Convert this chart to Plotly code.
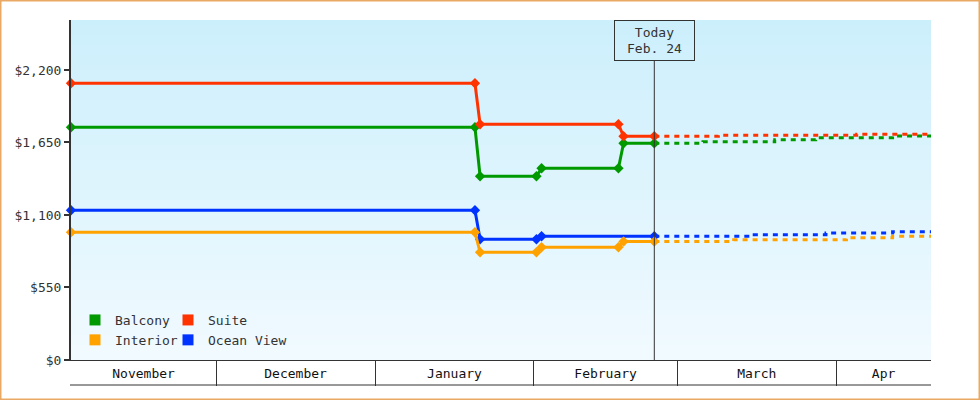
import plotly.graph_objects as go
import pandas as pd

# ---------------- data ----------------
range_start = "2022-11-02 16:00"
range_end = "2023-04-19 12:00"
today = "2023-02-24 12:00"
today_label = "Today<br>Feb. 24"

series_names = ["Balcony", "Suite", "Interior", "Ocean View"]
series_colors = ["#009900", "#ff3300", "#ffa200", "#0033ff"]

balcony_dates = [range_start, "2023-01-20 12:00", "2023-01-21 12:00", "2023-02-01 12:00",
                 "2023-02-02 12:00", "2023-02-17 12:00", "2023-02-18 12:00", today]
balcony_prices = [1765, 1765, 1394, 1394, 1454, 1454, 1644, 1644]

suite_dates = [range_start, "2023-01-20 12:00", "2023-01-21 12:00",
               "2023-02-17 12:00", "2023-02-18 12:00", today]
suite_prices = [2099, 2099, 1788, 1788, 1697, 1697]

interior_dates = [range_start, "2023-01-20 12:00", "2023-01-21 12:00", "2023-02-01 12:00",
                  "2023-02-02 12:00", "2023-02-17 12:00", "2023-02-18 12:00", today]
interior_prices = [969, 969, 817, 817, 855, 855, 899, 899]

ocean_dates = [range_start, "2023-01-20 12:00", "2023-01-21 12:00",
               "2023-02-01 12:00", "2023-02-02 12:00", today]
ocean_prices = [1136, 1136, 916, 916, 939, 939]

# forecast (dashed)
balcony_fc_dates = [today, "2023-03-06", "2023-03-20", "2023-03-28", "2023-04-12", range_end]
balcony_fc_prices = [1644, 1656, 1671, 1686, 1699, 1699]

suite_fc_dates = [today, "2023-03-09", "2023-04-05", range_end]
suite_fc_prices = [1697, 1705, 1712, 1712]

interior_fc_dates = [today, "2023-03-12", "2023-04-03", "2023-04-12", range_end]
interior_fc_prices = [899, 912, 928, 938, 938]

ocean_fc_dates = [today, "2023-03-16", "2023-03-30", "2023-04-12", range_end]
ocean_fc_prices = [939, 950, 963, 973, 973]

y_tickvals = [0, 550, 1100, 1650, 2200]
y_ticktext = ["$0", "$550", "$1,100", "$1,650", "$2,200"]
y_max = 2579

month_starts = ["2022-11-01", "2022-12-01", "2023-01-01", "2023-02-01", "2023-03-01", "2023-04-01", "2023-05-01"]
month_labels = ["November", "December", "January", "February", "March", "Apr"]

# ---------------- style ----------------
FONT = "DejaVu Sans Mono"
INK = "#333333"
W, H = 980, 400
ML, MR, MT, MB = 71, 49, 20, 40
PW, PH = W - ML - MR, H - MT - MB


def px_x(p):  # pixel -> paper x
    return (p - ML) / PW


def px_y(p):  # pixel -> paper y
    return (MT + PH - p) / PH


fig = go.Figure()

solid = [(balcony_dates, balcony_prices), (suite_dates, suite_prices),
         (interior_dates, interior_prices), (ocean_dates, ocean_prices)]
fc = [(balcony_fc_dates, balcony_fc_prices), (suite_fc_dates, suite_fc_prices),
      (interior_fc_dates, interior_fc_prices), (ocean_fc_dates, ocean_fc_prices)]

# draw order: ocean, interior, balcony, suite (suite on top)
for i in [3, 2, 0, 1]:
    d, v = fc[i]
    fig.add_trace(go.Scatter(x=d, y=v, mode="lines", line=dict(color=series_colors[i], width=3, dash="5px,5px", shape="hv"),
                             showlegend=False, hoverinfo="skip"))
for i in [3, 2, 0, 1]:
    d, v = solid[i]
    fig.add_trace(go.Scatter(x=d, y=v, mode="lines+markers", name=series_names[i],
                             line=dict(color=series_colors[i], width=3),
                             marker=dict(symbol="diamond", size=8, color=series_colors[i]),
                             showlegend=False, cliponaxis=False))

# legend entries (square swatches)
legend_of = {"Balcony": "legend", "Interior": "legend", "Suite": "legend2", "Ocean View": "legend2"}
for i in [0, 2, 1, 3]:
    fig.add_trace(go.Scatter(x=[None], y=[None], mode="markers", name=series_names[i],
                             marker=dict(symbol="square", size=11, color=series_colors[i]),
                             legend=legend_of[series_names[i]], legendgroup=series_names[i]))

# month label positions: centre of the visible part of each month
rs, re_ = pd.Timestamp(range_start), pd.Timestamp(range_end)
mids = []
for a, b in zip(month_starts[:-1], month_starts[1:]):
    a, b = max(pd.Timestamp(a), rs), min(pd.Timestamp(b), re_)
    mids.append(a + (b - a) / 2)

# background gradient bands
shapes = []
top = (204, 239, 252)
bot = (241, 250, 255)
n = 68
for k in range(n):
    t = k / (n - 1)
    c = tuple(round(top[j] + (bot[j] - top[j]) * t) for j in range(3))
    shapes.append(dict(type="rect", xref="paper", yref="paper", x0=0, x1=1,
                       y0=1 - (k + 1) / n, y1=1 - k / n, line=dict(width=0),
                       fillcolor="rgb(%d,%d,%d)" % c, layer="below"))
# bottom line of month band
shapes.append(dict(type="line", xref="paper", yref="paper", x0=px_x(70), x1=1, y0=px_y(385), y1=px_y(385),
                   line=dict(color=INK, width=1)))
# today line
shapes.append(dict(type="line", xref="x", yref="paper", x0=today, x1=today, y0=0, y1=px_y(60.5),
                   line=dict(color=INK, width=1)))
# outer border
shapes.append(dict(type="rect", xref="paper", yref="paper", x0=px_x(0.75), x1=px_x(979.25),
                   y0=px_y(399.25), y1=px_y(0.75), line=dict(color="#e9a964", width=1.5)))

fig.update_layout(
    width=W, height=H, autosize=False,
    margin=dict(l=ML, r=MR, t=MT, b=MB, pad=0),
    paper_bgcolor="white", plot_bgcolor="white",
    font=dict(family=FONT, size=13, color=INK),
    shapes=shapes,
    xaxis=dict(type="date", range=[range_start, range_end], tickvals=month_starts[1:-1],
               showticklabels=False, ticks="outside", ticklen=25, tickwidth=1, tickcolor=INK,
               showline=True, linecolor=INK, linewidth=1, showgrid=False, zeroline=False,
               fixedrange=True, automargin=False),
    xaxis2=dict(type="date", range=[range_start, range_end], overlaying="x", side="bottom", anchor="y",
                tickvals=mids, ticktext=month_labels, ticks="", showline=False, showgrid=False,
                ticklabelstandoff=4, zeroline=False, tickfont=dict(family=FONT, size=13, color="#111"),
                fixedrange=True, automargin=False),
    yaxis=dict(range=[0, y_max], tickvals=y_tickvals, ticktext=y_ticktext, ticks="outside", ticklen=5,
               tickwidth=2, tickcolor=INK, showline=True, linecolor=INK, linewidth=2, showgrid=False,
               zeroline=False, tickfont=dict(family=FONT, size=13, color=INK), fixedrange=True,
               automargin=False),
    legend=dict(x=px_x(75), xanchor="left", y=px_y(305), yanchor="top", bgcolor="rgba(0,0,0,0)",
                borderwidth=0, font=dict(family=FONT, size=13, color=INK), tracegroupgap=0,
                itemclick=False, itemdoubleclick=False),
    legend2=dict(x=px_x(168), xanchor="left", y=px_y(305), yanchor="top", bgcolor="rgba(0,0,0,0)",
                 borderwidth=0, font=dict(family=FONT, size=13, color=INK), tracegroupgap=0,
                 itemclick=False, itemdoubleclick=False),
    annotations=[dict(x=today, xref="x", y=1, yref="paper", xanchor="center", yanchor="top",
                      text=today_label, showarrow=False, width=79, height=39, borderwidth=1,
                      bordercolor=INK, borderpad=0, font=dict(family=FONT, size=13, color=INK))],
    hovermode=False,
)

# a dummy trace so xaxis2 is rendered
fig.add_trace(go.Scatter(x=[None], y=[None], xaxis="x2", showlegend=False, hoverinfo="skip"))

fig.write_html("out.html", config={"displayModeBar": False},
               post_script="document.body.style.margin='0';document.body.style.overflow='hidden';")
